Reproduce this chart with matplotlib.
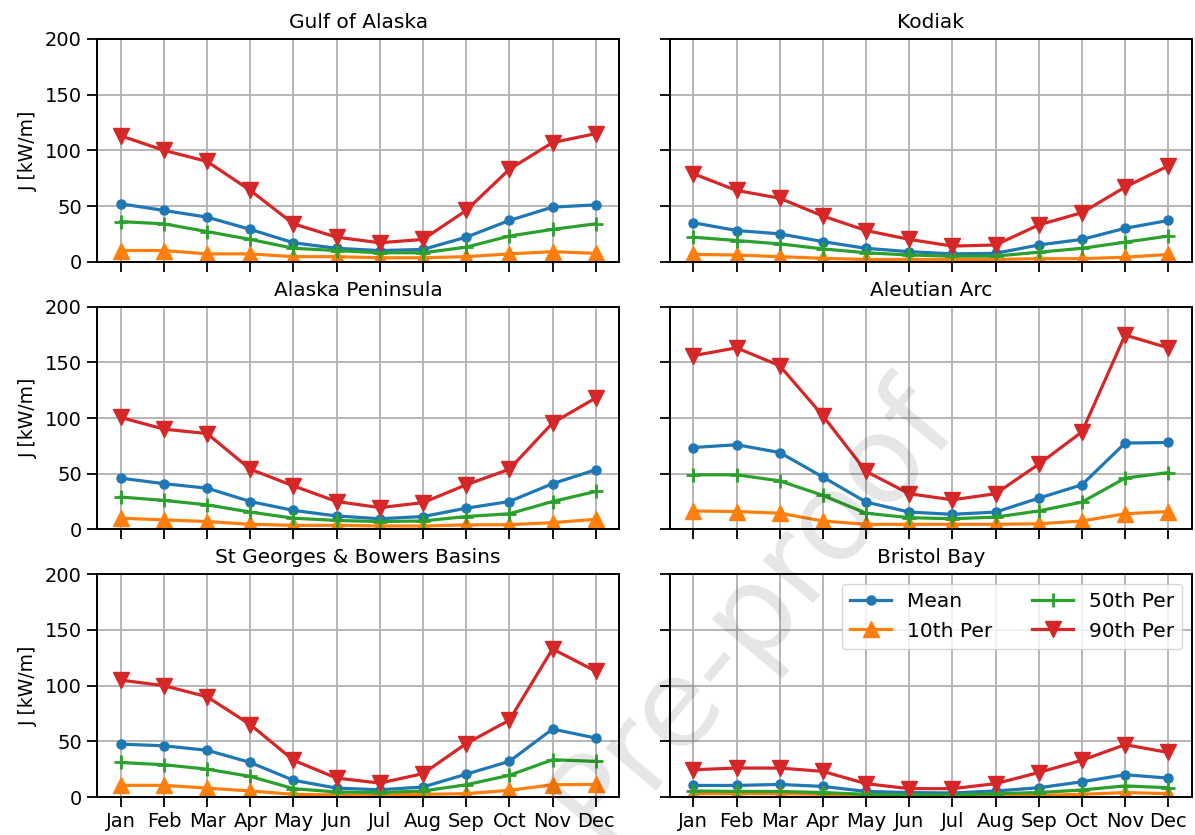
import matplotlib
matplotlib.use('Agg')
import matplotlib.pyplot as plt

# Monthly wave power statistics per region
months = ['Jan', 'Feb', 'Mar', 'Apr', 'May', 'Jun', 'Jul', 'Aug', 'Sep', 'Oct', 'Nov', 'Dec']

regions = ['Gulf of Alaska', 'Kodiak', 'Alaska Peninsula', 'Aleutian Arc',
           'St Georges & Bowers Basins', 'Bristol Bay']

gulf_mean = [52, 46, 40, 29, 17, 12, 10, 11, 22, 37, 49, 51]
gulf_p10 = [10, 10, 7, 7, 4.5, 4.5, 3.5, 3.5, 4.5, 7, 9, 7.5]
gulf_p50 = [36, 34, 27, 20, 12, 10, 8, 8, 13, 23, 29, 34]
gulf_p90 = [113, 100, 90, 64, 34, 22, 17, 20, 46, 83, 107, 115]

kodiak_mean = [35, 28, 25, 18, 12, 9, 7, 7.5, 15, 20, 30, 37]
kodiak_p10 = [6.5, 6, 4.5, 3, 2, 2, 2, 2, 2.7, 2.7, 4, 6.5]
kodiak_p50 = [22, 19, 16, 11.5, 8, 6, 5, 5, 8.5, 12, 17.5, 23]
kodiak_p90 = [79, 64, 57, 41, 28, 20, 14, 15, 33, 44, 67, 86]

penin_mean = [46, 41, 37, 25, 17, 12, 9.5, 11.5, 19, 25, 41, 53.5]
penin_p10 = [10, 8.5, 7, 4.5, 3.6, 3.6, 3, 3, 4, 4.2, 6, 9]
penin_p50 = [29, 26, 22, 15.5, 10, 8, 7, 7.5, 11.5, 14, 25, 34]
penin_p90 = [100.5, 90, 86, 54, 39, 25, 19.5, 24, 40, 54, 95.5, 118]

aleut_mean = [73.5, 76, 69, 47, 24.5, 15.5, 13.5, 15.5, 28, 40, 77.5, 78]
aleut_p10 = [16.5, 16, 14.5, 7.5, 4.5, 4.5, 4.5, 4.5, 5, 7.5, 14, 16]
aleut_p50 = [49, 49, 43.5, 30.5, 14.5, 10.5, 9.5, 11, 16.5, 24.5, 46, 51]
aleut_p90 = [156, 163, 147, 102, 52, 32, 26.5, 32, 58.5, 87.5, 174.5, 163]

stg_mean = [47.5, 46, 42, 31, 15, 8, 6.5, 9, 20.5, 32, 61, 53]
stg_p10 = [10.5, 10.5, 8, 5.4, 2.4, 1.8, 1.8, 2.4, 3, 6, 11, 11.3]
stg_p50 = [31, 29, 25, 18.5, 7.5, 4.5, 4, 5.4, 11, 19.5, 33.5, 32]
stg_p90 = [105, 100, 90, 65, 33, 17, 12.5, 21, 48, 69, 133, 113]

bristol_mean = [10.4, 10.4, 11.3, 9.5, 5, 4, 3.6, 5.4, 8.3, 13.7, 20, 17]
bristol_p10 = [3, 3, 3, 2.4, 1.2, 1, 1, 1.2, 1.5, 2.4, 4, 3]
bristol_p50 = [5.4, 5, 5, 4, 2.4, 2, 2, 3, 4, 6.3, 10, 8.3]
bristol_p90 = [24.5, 26, 26, 23, 12, 7.5, 7.5, 12, 22, 33, 47, 40]

stats = [
    (gulf_mean, gulf_p10, gulf_p50, gulf_p90),
    (kodiak_mean, kodiak_p10, kodiak_p50, kodiak_p90),
    (penin_mean, penin_p10, penin_p50, penin_p90),
    (aleut_mean, aleut_p10, aleut_p50, aleut_p90),
    (stg_mean, stg_p10, stg_p50, stg_p90),
    (bristol_mean, bristol_p10, bristol_p50, bristol_p90),
]

plt.rcParams['axes.linewidth'] = 1.4
plt.rcParams['xtick.major.size'] = 7
plt.rcParams['ytick.major.size'] = 7
plt.rcParams['xtick.major.width'] = 1.3
plt.rcParams['ytick.major.width'] = 1.3

fig, axes = plt.subplots(3, 2, figsize=(11.95, 8.35), dpi=100, sharex=True, sharey=True)
fig.subplots_adjust(left=0.0812, right=0.9975, top=0.9533, bottom=0.0455,
                    wspace=0.096, hspace=0.202)

x = list(range(len(months)))

for ax, name, (mean, p10, p50, p90) in zip(axes.flat, regions, stats):
    ax.plot(x, mean, color='C0', marker='o', markersize=6.5, linewidth=2.3, label='Mean')
    ax.plot(x, p10, color='C1', marker='^', markersize=11.5, linewidth=2.3, label='10th Per')
    ax.plot(x, p50, color='C2', marker='+', markersize=10, markeredgewidth=2,
            linewidth=2.3, label='50th Per')
    ax.plot(x, p90, color='C3', marker='v', markersize=11.5, linewidth=2.3, label='90th Per')
    ax.set_title(name, fontsize=14.5, pad=8)
    ax.set_ylim(0, 200)
    ax.set_yticks([0, 50, 100, 150, 200])
    ax.grid(True, color='#b0b0b0', linewidth=1.3)
    ax.tick_params(labelsize=14, pad=4)

axes[-1, 0].set_xticks(x)
axes[-1, 0].set_xticklabels(months)

for ax in axes[:, 0]:
    ax.set_ylabel('J [kW/m]', fontsize=13.5, labelpad=5)

axes[-1, 1].legend(loc='upper right', ncol=2, fontsize=14.5)

# journal watermark
fig.text(0.785, 0.508, 'Journal Pre-proof', rotation=50, rotation_mode='anchor',
         ha='right', va='center', fontsize=88, color='black', alpha=0.1)

plt.savefig('out.png', dpi=100)
